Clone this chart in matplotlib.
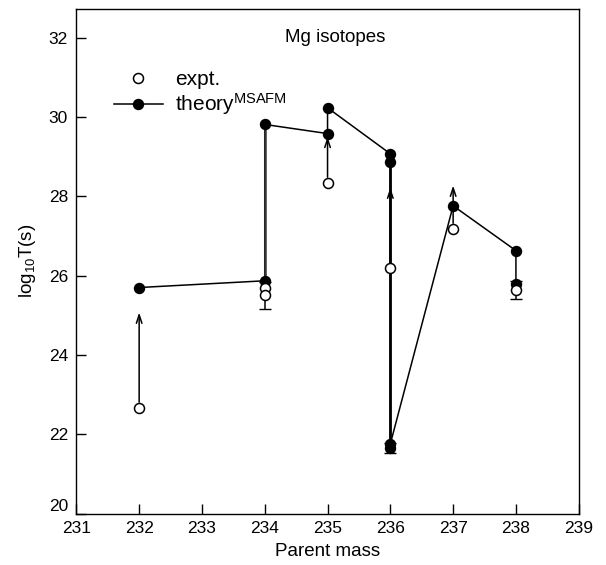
import matplotlib
matplotlib.use("Agg")
import matplotlib.pyplot as plt

plt.rcParams['font.family'] = ['Liberation Sans', 'DejaVu Sans']
plt.rcParams['mathtext.fontset'] = 'custom'
plt.rcParams['mathtext.rm'] = 'Liberation Sans'
plt.rcParams['mathtext.it'] = 'Liberation Sans'

# theory^MSAFM path (connected in order)
theory_x = [232, 234, 234, 235, 235, 236, 236, 236, 237, 238, 238]
theory_y = [25.70, 25.87, 29.81, 29.58, 30.23, 29.07, 28.87, 21.76, 27.76, 26.63, 25.80]
# extra overlapping theory point at 236
theory2_x = [236]
theory2_y = [21.66]
theory2_err = [0.12]

# experimental
expt_x = [232, 234, 234, 235, 236, 237, 238]
expt_y = [22.67, 25.70, 25.50, 28.34, 26.20, 27.18, 25.64]
expt_err = [0, 0, 0.33, 0, 0, 0, 0.22]

# lower-limit arrows: from expt value up to
arrow_x = [232, 235, 236, 237]
arrow_from = [22.67, 28.34, 26.20, 27.18]
arrow_to = [25.07, 29.50, 28.22, 28.27]

xticks = [231, 232, 233, 234, 235, 236, 237, 238, 239]
yticks = [20, 22, 24, 26, 28, 30, 32]

fig = plt.figure(figsize=(6.06, 5.65), dpi=100)
ax = fig.add_axes([0.126, 0.0908, 0.829, 0.894])

MS = 7.2
ax.plot(theory_x, theory_y, '-', color='black', lw=1.1, zorder=2)
ax.plot(theory_x[1:3], theory_y[1:3], '-', color='#333333', lw=1.8, zorder=2)
ax.plot(theory_x[5:8], theory_y[5:8], '-', color='black', lw=2.0, zorder=2)
ax.plot(theory_x, theory_y, 'o', color='black', ms=MS, zorder=4)
ax.errorbar(theory2_x, theory2_y, yerr=theory2_err, fmt='o', color='black',
            ms=MS, capsize=4, elinewidth=1, zorder=4)

for x, y, e in zip(expt_x, expt_y, expt_err):
    if e > 0:
        ax.errorbar([x], [y], yerr=[e], fmt='none', ecolor='black',
                    capsize=4, elinewidth=1.1, zorder=3)
ax.plot(expt_x, expt_y, 'o', mfc='white', mec='black', mew=1.1, ms=MS, zorder=5)

for x, y0, y1 in zip(arrow_x, arrow_from, arrow_to):
    ax.annotate('', xy=(x, y1), xytext=(x, y0),
                arrowprops=dict(arrowstyle='->,head_length=0.6,head_width=0.2',
                                color='black', lw=1.1, shrinkA=4, shrinkB=0),
                zorder=3)

ax.set_xlim(231, 239)
ax.set_ylim(20, 32.73)
ax.set_xticks(xticks)
ax.set_yticks(yticks)
ax.tick_params(direction='in', length=7, width=1, labelsize=12.5,
               top=False, right=False)
ax.tick_params(axis='x', pad=5)
ax.tick_params(axis='y', pad=6)
for s in ax.spines.values():
    s.set_linewidth(1)
# lowest y label sits above the corner, as in the reference
ax.get_yticklabels()[0].set_va('bottom')

ax.set_xlabel('Parent mass', fontsize=13.5, labelpad=5)
ax.set_ylabel(r'log$_{10}$T(s)', fontsize=13.5, labelpad=8)

ax.text(235.12, 32.0, 'Mg isotopes', fontsize=13.5, ha='center', va='center')

# legend (manual)
ax.plot([231.98], [30.98], 'o', mfc='white', mec='black', mew=1.1, ms=MS)
ax.plot([231.6, 232.38], [30.32, 30.32], '-', color='black', lw=1.1)
ax.plot([231.98], [30.32], 'o', color='black', ms=MS)
ax.text(232.57, 30.95, 'expt.', fontsize=15, va='center')
ax.text(232.57, 30.32, r'theory$^{\mathrm{MSAFM}}$', fontsize=15, va='center')

fig.savefig('out.png', dpi=100)
